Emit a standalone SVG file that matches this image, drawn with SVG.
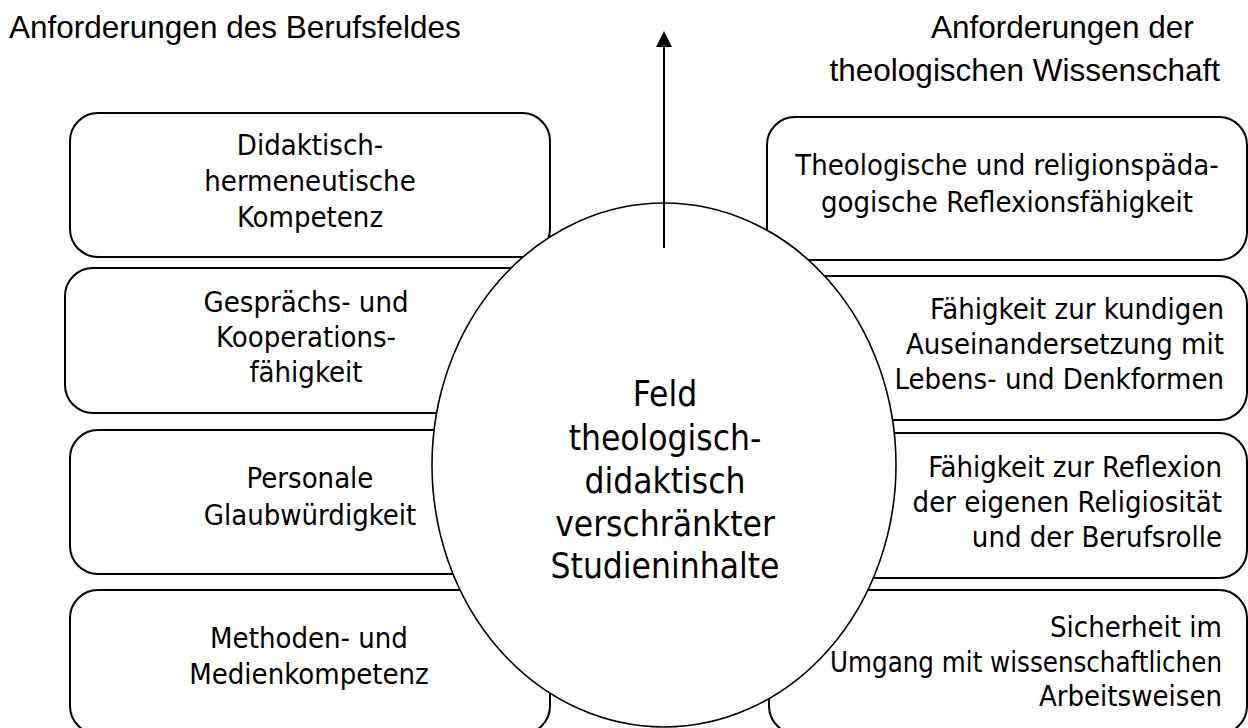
<svg xmlns="http://www.w3.org/2000/svg" width="1248" height="728" viewBox="0 0 1248 728">
<defs>
<style>
.box{fill:#fff;stroke:#000;stroke-width:2}
.hd{font-family:"Liberation Sans",Arial,sans-serif;font-size:31.5px;fill:#000}
.t{font-family:"DejaVu Sans Condensed","DejaVu Sans",sans-serif;font-stretch:condensed;font-size:29px;fill:#000}
.c{text-anchor:middle}
.r{text-anchor:end}
.big{font-family:"DejaVu Sans Condensed","DejaVu Sans",sans-serif;font-stretch:condensed;font-size:35px;fill:#000;text-anchor:middle}
</style>
</defs>
<rect width="1248" height="728" fill="#fff"/>
<g id="header-left"><text class="hd" x="9" y="38">Anforderungen des Berufsfeldes</text></g>
<g id="header-right"><text class="hd" x="931" y="38">Anforderungen der</text><text class="hd" x="1220" y="81" text-anchor="end">theologischen Wissenschaft</text></g>

<g id="l1"><rect class="box" x="70" y="113" width="480" height="144" rx="28"/>
<text class="t c" x="310" y="155">Didaktisch-</text><text class="t c" x="310" y="191">hermeneutische</text><text class="t c" x="310" y="227">Kompetenz</text></g>
<g id="l2"><rect class="box" x="65" y="268" width="485" height="145" rx="28"/>
<text class="t c" x="306" y="312">Gesprächs- und</text><text class="t c" x="306" y="347">Kooperations-</text><text class="t c" x="306" y="382">fähigkeit</text></g>
<g id="l3"><rect class="box" x="70" y="430" width="480" height="144" rx="28"/>
<text class="t c" x="310" y="488">Personale</text><text class="t c" x="310" y="525">Glaubwürdigkeit</text></g>
<g id="l4"><rect class="box" x="70" y="590" width="480" height="144" rx="28"/>
<text class="t c" x="309" y="648">Methoden- und</text><text class="t c" x="309" y="684">Medienkompetenz</text></g>

<g id="r1"><rect class="box" x="767" y="117" width="480" height="143" rx="28"/>
<text class="t c" x="1007" y="175">Theologische und religionspäda-</text><text class="t c" x="1007" y="212">gogische Reflexionsfähigkeit</text></g>
<g id="r2"><rect class="box" x="769" y="276" width="478" height="144" rx="28"/>
<text class="t r" x="1224" y="319">Fähigkeit zur kundigen</text><text class="t r" x="1224" y="354">Auseinandersetzung mit</text><text class="t r" x="1224" y="389">Lebens- und Denkformen</text></g>
<g id="r3"><rect class="box" x="769" y="433" width="478" height="145" rx="28"/>
<text class="t r" x="1222" y="477">Fähigkeit zur Reflexion</text><text class="t r" x="1222" y="512">der eigenen Religiosität</text><text class="t r" x="1222" y="547">und der Berufsrolle</text></g>
<g id="r4"><rect class="box" x="769" y="590" width="478" height="144" rx="28"/>
<text class="t r" x="1222" y="637">Sicherheit im</text><text class="t r" x="1222" y="672" textLength="392" lengthAdjust="spacingAndGlyphs">Umgang mit wissenschaftlichen</text><text class="t r" x="1222" y="706">Arbeitsweisen</text></g>

<g id="center"><ellipse cx="664" cy="465" rx="232" ry="262" fill="#fff" stroke="#000" stroke-width="1.6"/>
<text class="big" x="665" y="406">Feld</text><text class="big" x="665" y="450">theologisch-</text><text class="big" x="665" y="493">didaktisch</text><text class="big" x="665" y="536">verschränkter</text><text class="big" x="665" y="578">Studieninhalte</text></g>

<g id="connectors"><line x1="664" y1="248" x2="664" y2="44" stroke="#000" stroke-width="2"/><polygon points="664,31 656,47 672,47" fill="#000"/></g>
</svg>
